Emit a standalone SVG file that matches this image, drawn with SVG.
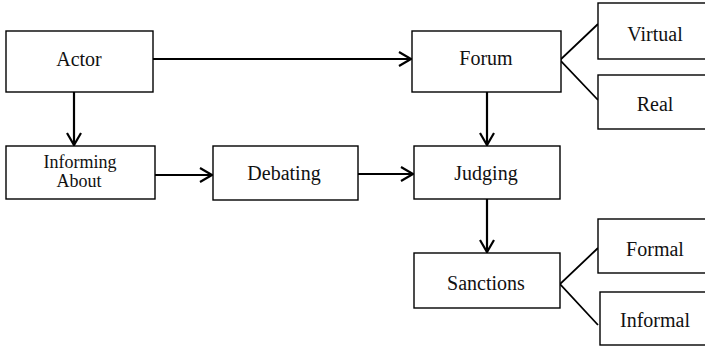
<svg xmlns="http://www.w3.org/2000/svg" width="705" height="346" viewBox="0 0 705 346">
<defs>
<marker id="arr" markerUnits="userSpaceOnUse" markerWidth="20" markerHeight="20" viewBox="-14 -10 16 20" refX="0" refY="0" orient="auto">
<path d="M-12,-7 L0,0 L-12,7" fill="none" stroke="#000" stroke-width="2.2"/>
</marker>
</defs>
<style>
rect{fill:#fff;stroke:#000;stroke-width:1.4}
text{font-family:'Liberation Serif','Times New Roman','DejaVu Serif',serif;font-size:20px;fill:#111;text-anchor:middle}
.sm{font-size:18px}
.c{stroke:#000;stroke-width:2.2;fill:none}
.f{stroke:#000;stroke-width:1.8;fill:none}
</style>
<rect width="705" height="346" style="fill:#fff;stroke:none"/>
<g id="connectors">
<line class="c" x1="153" y1="59" x2="411" y2="59" marker-end="url(#arr)"/>
<line class="c" x1="74" y1="92" x2="74" y2="145" marker-end="url(#arr)"/>
<line class="c" x1="155" y1="175" x2="212" y2="175" marker-end="url(#arr)"/>
<line class="c" x1="358" y1="174" x2="413" y2="174" marker-end="url(#arr)"/>
<line class="c" x1="487" y1="92" x2="487" y2="145" marker-end="url(#arr)"/>
<line class="c" x1="487" y1="199" x2="487" y2="252" marker-end="url(#arr)"/>
<polyline class="f" points="598,24 560,60 598,100"/>
<polyline class="f" points="598,248 560,284 598,325"/>
</g>
<g id="actor"><rect x="6" y="31" width="147" height="61"/><text x="79" y="66" font-family="Liberation Serif, serif">Actor</text></g>
<g id="informing"><rect x="6" y="146" width="149" height="53"/><text class="sm" x="80" y="168">Informing</text><text class="sm" x="79" y="187">About</text></g>
<g id="debating"><rect x="213" y="146" width="145" height="54"/><text x="284" y="180">Debating</text></g>
<g id="forum"><rect x="412" y="31" width="149" height="61"/><text x="486" y="65">Forum</text></g>
<g id="virtual"><rect x="598" y="3" width="110" height="56"/><text x="655" y="41">Virtual</text></g>
<g id="real"><rect x="598" y="75" width="110" height="54"/><text x="655" y="111">Real</text></g>
<g id="judging"><rect x="414" y="146" width="146" height="53"/><text x="486" y="180">Judging</text></g>
<g id="sanctions"><rect x="414" y="253" width="146" height="55"/><text x="486" y="290">Sanctions</text></g>
<g id="formal"><rect x="598" y="219" width="110" height="54"/><text x="655" y="256">Formal</text></g>
<g id="informal"><rect x="600" y="292" width="108" height="53"/><text x="655" y="327">Informal</text></g>
</svg>
